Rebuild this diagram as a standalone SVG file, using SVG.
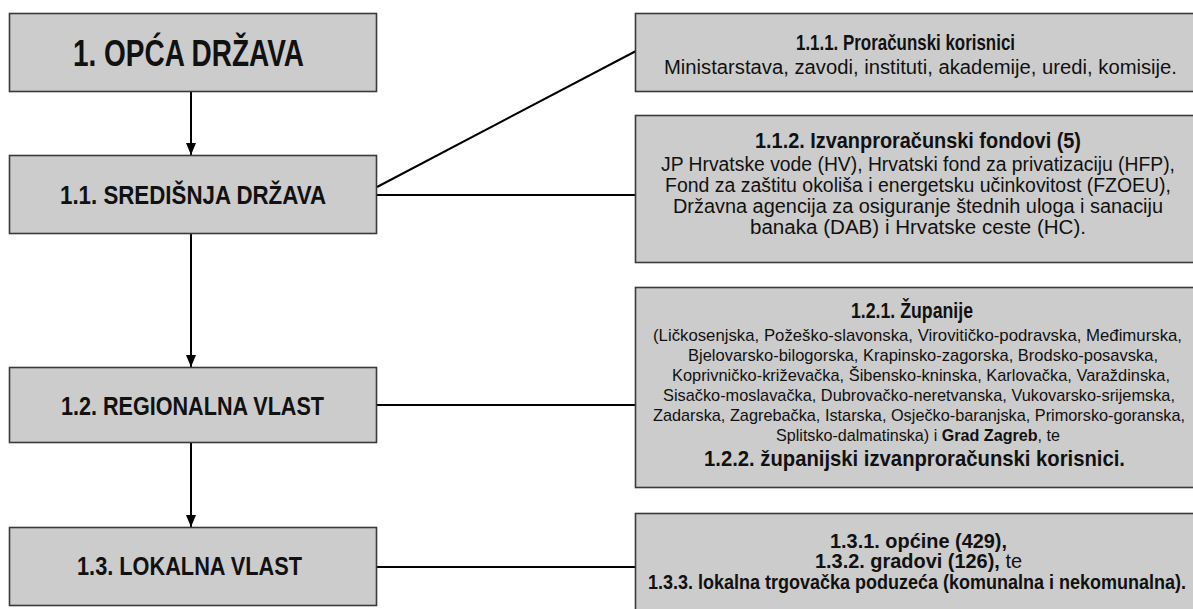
<svg xmlns="http://www.w3.org/2000/svg" width="1193" height="609" viewBox="0 0 1193 609">
<style>
.box{fill:#cccccc;stroke:#3a3a3a;stroke-width:1.6}
.t{font-family:"Liberation Sans",Arial,sans-serif;fill:#111}
.b{font-weight:bold}
.n{font-weight:normal}
.big{font-size:37px;font-weight:bold}
.lv{font-size:26px;font-weight:bold}
.h{font-size:22px;font-weight:bold}
.h3{font-size:20px;font-weight:bold}
.r{font-size:20px}
.s{font-size:17px}
.c{stroke:#000;stroke-width:2;fill:none}
</style>
<defs>
<marker id="ah" markerWidth="12" markerHeight="10" refX="12" refY="5" orient="auto" markerUnits="userSpaceOnUse">
<path d="M0,0 L12,5 L0,10 Z" fill="#000"/>
</marker>
</defs>
<g id="connectors">
<line class="c" x1="191" y1="92" x2="191" y2="155" marker-end="url(#ah)"/>
<line class="c" x1="191" y1="234" x2="191" y2="367" marker-end="url(#ah)"/>
<line class="c" x1="191" y1="443" x2="191" y2="527" marker-end="url(#ah)"/>
<line class="c" x1="377" y1="187" x2="636" y2="51"/>
<line class="c" x1="377" y1="195" x2="635" y2="195"/>
<line class="c" x1="377" y1="405" x2="635" y2="405"/>
<line class="c" x1="377" y1="567" x2="635" y2="567"/>
</g>
<g id="n1">
<rect class="box" x="9.5" y="13.5" width="367" height="78"/>
<text class="t big" x="73" y="66" textLength="231" lengthAdjust="spacingAndGlyphs">1. OPĆA DRŽAVA</text>
</g>
<g id="n11">
<rect class="box" x="9.5" y="155.5" width="367" height="78"/>
<text class="t lv" x="60" y="204" textLength="266" lengthAdjust="spacingAndGlyphs">1.1. SREDIŠNJA DRŽAVA</text>
</g>
<g id="n12">
<rect class="box" x="9.5" y="367.5" width="367" height="75"/>
<text class="t lv" x="61" y="415" textLength="263" lengthAdjust="spacingAndGlyphs">1.2. REGIONALNA VLAST</text>
</g>
<g id="n13">
<rect class="box" x="9.5" y="527.5" width="367" height="78"/>
<text class="t lv" x="77" y="575" textLength="225" lengthAdjust="spacingAndGlyphs">1.3. LOKALNA VLAST</text>
</g>
<g id="n111">
<rect class="box" x="635.5" y="13.5" width="580" height="78"/>
<text class="t h" x="796" y="50" textLength="219" lengthAdjust="spacingAndGlyphs">1.1.1. Proračunski korisnici</text>
<text class="t r" x="664" y="74" textLength="513" lengthAdjust="spacingAndGlyphs">Ministarstava, zavodi, instituti, akademije, uredi, komisije.</text>
</g>
<g id="n112">
<rect class="box" x="635.5" y="115.5" width="580" height="147"/>
<text class="t h" x="755" y="148" textLength="326" lengthAdjust="spacingAndGlyphs">1.1.2. Izvanproračunski fondovi (5)</text>
<text class="t r" x="661" y="171" textLength="514" lengthAdjust="spacingAndGlyphs">JP Hrvatske vode (HV), Hrvatski fond za privatizaciju (HFP),</text>
<text class="t r" x="665" y="192" textLength="506" lengthAdjust="spacingAndGlyphs">Fond za zaštitu okoliša i energetsku učinkovitost (FZOEU),</text>
<text class="t r" x="673" y="213" textLength="490" lengthAdjust="spacingAndGlyphs">Državna agencija za osiguranje štednih uloga i sanaciju</text>
<text class="t r" x="750" y="234" textLength="336" lengthAdjust="spacingAndGlyphs">banaka (DAB) i Hrvatske ceste (HC).</text>
</g>
<g id="n121">
<rect class="box" x="635.5" y="287.5" width="580" height="200"/>
<text class="t h" x="851" y="318" textLength="122" lengthAdjust="spacingAndGlyphs">1.2.1. Županije</text>
<text class="t s" x="653" y="341" textLength="529" lengthAdjust="spacingAndGlyphs">(Ličkosenjska, Požeško-slavonska, Virovitičko-podravska, Međimurska,</text>
<text class="t s" x="688" y="361" textLength="470" lengthAdjust="spacingAndGlyphs">Bjelovarsko-bilogorska, Krapinsko-zagorska, Brodsko-posavska,</text>
<text class="t s" x="672" y="381" textLength="498" lengthAdjust="spacingAndGlyphs">Koprivničko-križevačka, Šibensko-kninska, Karlovačka, Varaždinska,</text>
<text class="t s" x="663" y="401" textLength="512" lengthAdjust="spacingAndGlyphs">Sisačko-moslavačka, Dubrovačko-neretvanska, Vukovarsko-srijemska,</text>
<text class="t s" x="653" y="421" textLength="532" lengthAdjust="spacingAndGlyphs">Zadarska, Zagrebačka, Istarska, Osječko-baranjska, Primorsko-goranska,</text>
<text class="t s" x="776" y="441" textLength="284" lengthAdjust="spacingAndGlyphs">Splitsko-dalmatinska) i <tspan class="b">Grad Zagreb</tspan>, te</text>
<text class="t h" x="704" y="466" textLength="421" lengthAdjust="spacingAndGlyphs">1.2.2. županijski izvanproračunski korisnici.</text>
</g>
<g id="n131">
<rect class="box" x="635.5" y="513.5" width="580" height="110"/>
<text class="t h3" x="830" y="548" textLength="177" lengthAdjust="spacingAndGlyphs">1.3.1. općine (429),</text>
<text class="t h3" x="815" y="568" textLength="207" lengthAdjust="spacingAndGlyphs">1.3.2. gradovi (126),<tspan class="n"> te</tspan></text>
<text class="t h3" x="648" y="589" textLength="538" lengthAdjust="spacingAndGlyphs">1.3.3. lokalna trgovačka poduzeća (komunalna i nekomunalna).</text>
</g>
</svg>
